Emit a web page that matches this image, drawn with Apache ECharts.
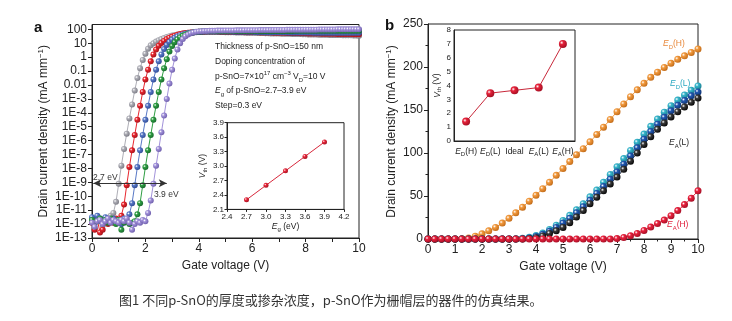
<!DOCTYPE html>
<html><head><meta charset="utf-8">
<script src="https://cdn.jsdelivr.net/npm/echarts@6/dist/echarts.min.js"></script>
<style>html,body{margin:0;padding:0;background:#fff}#c{width:732px;height:321px}</style>
</head><body><div id="c"></div><script>
// ---------- Panel a: log10 of drain current density (mA/mm) vs gate voltage ----------
const xA = [0,0.1,0.2,0.3,0.4,0.5,0.6,0.7,0.8,0.9,
1,1.1,1.2,1.3,1.4,1.5,1.6,1.7,1.8,1.9,
2,2.1,2.2,2.3,2.4,2.5,2.6,2.7,2.8,2.9,
3,3.1,3.2,3.3,3.4,3.5,3.6,3.7,3.8,3.9,
4,4.1,4.2,4.3,4.4,4.5,4.6,4.7,4.8,4.9,
5,5.1,5.2,5.3,5.4,5.5,5.6,5.7,5.8,5.9,
6,6.1,6.2,6.3,6.4,6.5,6.6,6.7,6.8,6.9,
7,7.1,7.2,7.3,7.4,7.5,7.6,7.7,7.8,7.9,
8,8.1,8.2,8.3,8.4,8.5,8.6,8.7,8.8,8.9,
9,9.1,9.2,9.3,9.4,9.5,9.6,9.7,9.8,9.9,10];
const logJ_Eg27 = [-11.6,-12.3,-11.5,-11.8,-12.1,-11.6,-11.9,-11.4,-11.2,-10.4,
-9.1,-7.8,-6.6,-5.5,-4.4,-3.4,-2.4,-1.5,-0.8,-0.2,
0.25,0.6,0.85,1.0,1.12,1.22,1.3,1.38,1.45,1.51,
1.56,1.6,1.64,1.67,1.7,1.73,1.75,1.77,1.79,1.8,
1.81,1.82,1.82,1.83,1.83,1.83,1.82,1.82,1.81,1.81,
1.80,1.80,1.79,1.79,1.78,1.78,1.77,1.77,1.76,1.76,
1.75,1.75,1.74,1.73,1.73,1.72,1.72,1.71,1.71,1.70,
1.70,1.69,1.69,1.68,1.68,1.67,1.67,1.66,1.66,1.65,
1.65,1.64,1.64,1.63,1.63,1.62,1.62,1.61,1.61,1.60,
1.60,1.60,1.59,1.59,1.58,1.58,1.57,1.57,1.56,1.56,1.55];
const logJ_Eg30 = [-11.9,-12.4,-11.7,-12.6,-12.4,-11.8,-12.0,-11.7,-11.9,-11.6,
-11.8,-11.4,-10.6,-9.2,-7.9,-6.7,-5.6,-4.5,-3.5,-2.5,
-1.6,-0.9,-0.3,0.2,0.55,0.82,1.02,1.17,1.3,1.4,
1.48,1.55,1.61,1.66,1.7,1.73,1.76,1.78,1.8,1.81,
1.82,1.83,1.83,1.84,1.84,1.84,1.84,1.84,1.83,1.83,
1.83,1.82,1.82,1.82,1.81,1.81,1.81,1.80,1.80,1.80,
1.79,1.79,1.79,1.78,1.78,1.78,1.77,1.77,1.76,1.76,
1.76,1.75,1.75,1.74,1.74,1.74,1.73,1.73,1.72,1.72,
1.72,1.71,1.71,1.70,1.70,1.70,1.69,1.69,1.69,1.68,
1.68,1.68,1.67,1.67,1.67,1.66,1.66,1.66,1.65,1.65,1.65];
const logJ_Eg33 = [-11.5,-11.8,-11.4,-11.6,-11.9,-11.5,-11.7,-11.8,-11.6,-11.9,
-11.7,-12.0,-11.6,-11.8,-11.3,-10.5,-9.2,-7.9,-6.7,-5.6,
-4.5,-3.5,-2.5,-1.6,-0.9,-0.3,0.2,0.58,0.88,1.1,
1.27,1.4,1.5,1.58,1.64,1.69,1.73,1.76,1.79,1.81,
1.82,1.83,1.84,1.84,1.85,1.85,1.85,1.85,1.85,1.84,
1.84,1.84,1.84,1.83,1.83,1.83,1.83,1.82,1.82,1.82,
1.82,1.81,1.81,1.81,1.81,1.80,1.80,1.80,1.80,1.79,
1.79,1.79,1.79,1.78,1.78,1.78,1.78,1.78,1.77,1.77,
1.77,1.77,1.77,1.76,1.76,1.76,1.76,1.76,1.76,1.75,
1.75,1.75,1.75,1.75,1.75,1.75,1.75,1.75,1.75,1.75,1.75];
const logJ_Eg36 = [-11.7,-11.9,-11.8,-11.6,-11.9,-11.7,-11.9,-11.6,-11.8,-12.0,
-11.7,-12.4,-11.9,-11.8,-12.0,-11.9,-11.8,-11.3,-10.5,-9.2,
-7.9,-6.7,-5.6,-4.5,-3.5,-2.5,-1.6,-0.8,-0.15,0.4,
0.8,1.08,1.28,1.43,1.54,1.62,1.69,1.74,1.78,1.81,
1.83,1.85,1.86,1.86,1.87,1.87,1.87,1.87,1.87,1.87,
1.87,1.87,1.88,1.88,1.88,1.88,1.88,1.88,1.88,1.88,
1.88,1.88,1.88,1.89,1.89,1.89,1.89,1.89,1.89,1.89,
1.89,1.89,1.89,1.89,1.89,1.89,1.90,1.90,1.90,1.90,
1.90,1.90,1.90,1.90,1.90,1.90,1.90,1.90,1.90,1.90,
1.90,1.90,1.90,1.90,1.90,1.90,1.90,1.90,1.90,1.90,1.90];
const logJ_Eg39 = [-11.9,-12.2,-11.8,-11.7,-12.0,-11.8,-11.6,-11.9,-11.7,-11.8,
-11.9,-11.7,-11.8,-11.6,-11.9,-12.4,-12.0,-11.8,-11.9,-11.7,
-11.8,-11.2,-10.3,-9.1,-7.8,-6.6,-5.4,-4.2,-3.0,-1.9,
-0.9,-0.1,0.55,1.0,1.3,1.5,1.63,1.72,1.78,1.82,
1.85,1.87,1.88,1.89,1.90,1.90,1.90,1.91,1.91,1.91,
1.92,1.92,1.92,1.92,1.93,1.93,1.93,1.93,1.94,1.94,
1.94,1.94,1.94,1.95,1.95,1.95,1.95,1.95,1.96,1.96,
1.96,1.96,1.96,1.97,1.97,1.97,1.97,1.97,1.97,1.98,
1.98,1.98,1.98,1.98,1.98,1.99,1.99,1.99,1.99,1.99,
1.99,1.99,2.0,2.0,2.0,2.0,2.0,2.0,2.0,2.0,2.0];
const tickLabelsA = ['1E-13','1E-12','1E-11','1E-10','1E-9','1E-8','1E-7','1E-6','1E-5','1E-4','1E-3','0.01','0.1','1','10','100'];
// inset a
const egInset = [2.7,3.0,3.3,3.6,3.9];
const vthInsetA = [2.3,2.6,2.9,3.2,3.5];

// ---------- Panel b ----------
const xB = [0,0.25,0.5,0.75,1,1.25,1.5,1.75,2,2.25,2.5,2.75,3,3.25,3.5,3.75,4,4.25,4.5,4.75,
5,5.25,5.5,5.75,6,6.25,6.5,6.75,7,7.25,7.5,7.75,8,8.25,8.5,8.75,9,9.25,9.5,9.75,10];
const J_EDH = [0,0,0,0,0.1,0.4,1.3,3.2,6,9.5,13.5,18.5,24,30.5,37,44,51,58.5,66,74,
82,90,98,105,113,121.5,130,139,148,157,165.5,173.5,181,188,194,199.5,204.5,209,213,217,221];
const J_EDL = [0,0,0,0,0,0,0,0,0,0,0,0,0,0.3,0.8,2,4,7,11,16,
21.5,27.5,34,41,49,57,66,75,84,93.5,103,112.5,122,131,139.5,147.5,155,161.5,167.5,173,178];
const J_Ideal = [0,0,0,0,0,0,0,0,0,0,0,0,0,0,0.4,1.3,3,5.5,9,13.5,
18.5,24,30.5,37.5,45,53,61,69.5,78,87,96.5,106,116,125,133.5,141.5,149,155.5,161,166.5,171];
const J_EAL = [0,0,0,0,0,0,0,0,0,0,0,0,0,0,0,0.5,1.5,3.5,6.5,9.5,
13.5,19,25.5,33,41,48.5,56,64,72,81,90.5,100,110,119,127.5,135,142,148,153.5,159,164];
const J_EAH = [0,0,0,0,0,0,0,0,0,0,0,0,0,0,0,0,0,0,0,0,
0,0,0,0,0,0,0,0,0.5,1.8,3.8,6.5,10,14,18,22,27,33,40,47.5,56];
// inset b
const trapCats = ['E_D(H)','E_D(L)','Ideal','E_A(L)','E_A(H)'];
const vthInsetB = [1.4,3.45,3.65,3.85,7.0];

// ---------- styling helpers ----------
const FF = "'Liberation Sans', Arial, Helvetica, sans-serif";
const INK = '#222';
function bead(c, dark) {
  return {type:'radial', x:0.35, y:0.35, r:0.75,
    colorStops:[{offset:0,color:'#ffffff'},{offset:0.3,color:c},{offset:1,color:dark}]};
}
function richAx(sz, color) {
  color = color || INK;
  return {
    n:{fontFamily:FF,fontSize:sz,color:color},
    i:{fontFamily:FF,fontSize:sz,fontStyle:'italic',color:color},
    sub:{fontFamily:FF,fontSize:Math.round(sz*0.7),color:color,verticalAlign:'bottom'},
    sup:{fontFamily:FF,fontSize:Math.round(sz*0.7),color:color,verticalAlign:'top'}
  };
}
function richG(sz, color) {
  return {
    i:{fontFamily:FF,fontSize:sz,fontStyle:'italic',fill:color,color:color},
    sub:{fontFamily:FF,fontSize:sz*0.7,fill:color,color:color,verticalAlign:'bottom'},
    sup:{fontFamily:FF,fontSize:sz*0.7,fill:color,color:color,verticalAlign:'top'}
  };
}
function gText(x, y, text, sz, color, extra) {
  return {type:'text', x:x, y:y, silent:true, z:100,
    style:Object.assign({text:text, fontSize:sz, fontFamily:FF, fill:color,
      align:'left', verticalAlign:'middle', lineHeight:sz+4, rich:richG(sz,color)}, extra||{})};
}
function capE(s){ // 'E_D(H)' -> rich
  const m = s.match(/^E_(\w)(.*)$/);
  return m ? '{i|E}{sub|'+m[1]+'}'+m[2] : s;
}
const axLine = {show:true, onZero:false, lineStyle:{color:INK,width:1}};
const lbl = (sz, extra) => Object.assign({fontFamily:FF,fontSize:sz,color:INK}, extra||{});

const pa = [
  {name:'2.7 eV', d:logJ_Eg27, c:'#aeaeb6', k:'#74747e'},
  {name:'3.0 eV', d:logJ_Eg30, c:'#e8262e', k:'#9c1018'},
  {name:'3.3 eV', d:logJ_Eg33, c:'#5878c6', k:'#2b4690'},
  {name:'3.6 eV', d:logJ_Eg36, c:'#2e9e42', k:'#15632a'},
  {name:'3.9 eV', d:logJ_Eg39, c:'#a292da', k:'#6858a6'}
];
const pb = [
  {name:'E_D(H)', d:J_EDH, c:'#f29a3e', k:'#bd6614'},
  {name:'E_D(L)', d:J_EDL, c:'#38b6cc', k:'#177c8e'},
  {name:'Ideal', d:J_Ideal, c:'#2258b0', k:'#0c306c'},
  {name:'E_A(L)', d:J_EAL, c:'#3a3a3a', k:'#000000'},
  {name:'E_A(H)', d:J_EAH, c:'#e8203c', k:'#9e0e24'}
];

const series = [];
pa.forEach((s, si) => {
  const o = {type:'line', name:s.name, xAxisIndex:0, yAxisIndex:0, silent:true,
    data:xA.map((x,i)=>[x, s.d[i]]), symbol:'circle', symbolSize:6, showAllSymbol:true,
    lineStyle:{color:s.c, width:1}, itemStyle:{color:bead(s.c,s.k), borderWidth:0}};
  if (si === pa.length-1) {
    o.markLine = {silent:true, symbol:['arrow','arrow'], symbolSize:[6,8], label:{show:false},
      lineStyle:{color:'#333', width:1.2, type:'solid'},
      data:[[{coord:[0.05,-9.06]},{coord:[2.8,-9.06]}]]};
  }
  series.push(o);
});
series.push({type:'line', xAxisIndex:1, yAxisIndex:1, silent:true,
  data:egInset.map((e,i)=>[e, vthInsetA[i]]), symbol:'circle', symbolSize:5,
  lineStyle:{color:'#d8283c', width:1}, itemStyle:{color:bead('#e8263a','#a0101f')}});
pb.forEach(s => {
  series.push({type:'line', name:s.name, xAxisIndex:2, yAxisIndex:2, silent:true,
    data:xB.map((x,i)=>[x, s.d[i]]), symbol:'circle', symbolSize:7, showAllSymbol:true,
    lineStyle:{color:s.c, width:1}, itemStyle:{color:bead(s.c,s.k), borderWidth:0}});
});
series.push({type:'line', xAxisIndex:3, yAxisIndex:3, silent:true,
  data:vthInsetB, symbol:'circle', symbolSize:8,
  lineStyle:{color:'#c8283a', width:1}, itemStyle:{color:bead('#e6223a','#9a0c20')}});

const yNameMain = '{n|Drain current density (mA mm}{sup|−1}{n|)}';

const option = {
  animation:false,
  backgroundColor:'#fff',
  grid:[
    {left:92, top:24.5, width:267, height:213.5, show:true, borderColor:INK, borderWidth:1, backgroundColor:'transparent'},
    {left:227, top:122.7, width:117, height:86.7, show:true, borderColor:INK, borderWidth:1, backgroundColor:'#fff'},
    {left:428, top:24, width:270, height:215, show:true, borderColor:INK, borderWidth:1, backgroundColor:'transparent'},
    {left:454, top:30, width:121, height:111, show:true, borderColor:INK, borderWidth:1, backgroundColor:'#fff'}
  ],
  xAxis:[
    {gridIndex:0, type:'value', min:0, max:10, interval:2, axisLine:axLine,
      axisTick:{length:4, lineStyle:{color:INK}}, minorTick:{show:true, splitNumber:2, length:4, lineStyle:{color:INK}},
      splitLine:{show:false}, axisLabel:lbl(12,{margin:5}),
      name:'Gate voltage (V)', nameLocation:'middle', nameGap:22, nameTextStyle:lbl(12)},
    {gridIndex:1, type:'value', min:2.4, max:4.2, interval:0.3, axisLine:axLine,
      axisTick:{length:2.5, lineStyle:{color:INK}}, splitLine:{show:false},
      axisLabel:lbl(8,{margin:3, formatter:v=>v.toFixed(1)}),
      name:'{i|E}{sub|g} (eV)', nameLocation:'middle', nameGap:12,
      nameTextStyle:Object.assign(lbl(8.5,{lineHeight:11}),{rich:richAx(8.5)})},
    {gridIndex:2, type:'value', min:0, max:10, interval:1, axisLine:axLine,
      axisTick:{length:4, lineStyle:{color:INK}}, minorTick:{show:true, splitNumber:2, length:2.5, lineStyle:{color:INK}},
      splitLine:{show:false}, axisLabel:lbl(12,{margin:5}),
      name:'Gate voltage (V)', nameLocation:'middle', nameGap:22, nameTextStyle:lbl(12)},
    {gridIndex:3, type:'category', data:trapCats, boundaryGap:true, axisLine:axLine,
      axisTick:{alignWithLabel:true, length:2.5, lineStyle:{color:INK}},
      axisLabel:Object.assign(lbl(8.5,{margin:5, interval:0, lineHeight:11, formatter:capE}),{rich:richAx(8.5)})}
  ],
  yAxis:[
    {gridIndex:0, type:'value', min:-13, max:2.35, interval:1, axisLine:axLine,
      axisTick:{length:4, lineStyle:{color:INK}}, splitLine:{show:false},
      axisLabel:lbl(12,{margin:5, showMaxLabel:false,
        formatter:v=>Math.abs(v-Math.round(v))<1e-6 ? (tickLabelsA[Math.round(v)+13]||'') : ''}),
      name:yNameMain, nameLocation:'middle', nameGap:41,
      nameTextStyle:Object.assign(lbl(12,{lineHeight:14}),{rich:richAx(12)})},
    {gridIndex:1, type:'value', min:2.1, max:3.9, interval:0.3, axisLine:axLine,
      axisTick:{length:2.5, lineStyle:{color:INK}}, splitLine:{show:false},
      axisLabel:lbl(8,{margin:3, formatter:v=>v.toFixed(1)}),
      name:'{i|V}{sub|th} (V)', nameLocation:'middle', nameGap:19,
      nameTextStyle:Object.assign(lbl(8.5,{lineHeight:11}),{rich:richAx(8.5)})},
    {gridIndex:2, type:'value', min:0, max:250, interval:50, axisLine:axLine,
      axisTick:{length:4, lineStyle:{color:INK}}, minorTick:{show:true, splitNumber:2, length:2.5, lineStyle:{color:INK}},
      splitLine:{show:false}, axisLabel:lbl(12,{margin:5}),
      name:yNameMain, nameLocation:'middle', nameGap:29,
      nameTextStyle:Object.assign(lbl(12,{lineHeight:14}),{rich:richAx(12)})},
    {gridIndex:3, type:'value', min:0, max:8, interval:1, axisLine:axLine,
      axisTick:{length:2.5, lineStyle:{color:INK}}, splitLine:{show:false},
      axisLabel:lbl(8,{margin:3}),
      name:'{i|V}{sub|th} (V)', nameLocation:'middle', nameGap:9,
      nameTextStyle:Object.assign(lbl(8.5,{lineHeight:11}),{rich:richAx(8.5)})}
  ],
  graphic:[
    gText(34, 28, 'a', 15, '#111', {fontWeight:'bold'}),
    gText(385, 26, 'b', 15, '#111', {fontWeight:'bold'}),
    gText(215, 46.7, 'Thickness of p-SnO=150 nm', 8.5, INK),
    gText(215, 61.7, 'Doping concentration of', 8.5, INK),
    gText(215, 76.7, 'p-SnO=7×10{sup|17} cm{sup|−3} V{sub|D}=10 V', 8.5, INK),
    gText(215, 91, '{i|E}{sub|g} of p-SnO=2.7–3.9 eV', 8.5, INK),
    gText(215, 105.7, 'Step=0.3 eV', 8.5, INK),
    gText(93, 178, '2.7 eV', 8.5, '#333'),
    gText(154, 195, '3.9 eV', 8.5, '#333'),
    gText(663, 44, '{i|E}{sub|D}(H)', 8.5, '#e8883a'),
    gText(670, 84, '{i|E}{sub|D}(L)', 8.5, '#2aa8c0'),
    gText(669, 143, '{i|E}{sub|A}(L)', 8.5, '#222'),
    gText(667, 225, '{i|E}{sub|A}(H)', 8.5, '#e0203c'),
    {type:'text', x:119, y:300, silent:true, z:100,
      style:{text:'图1 不同p-SnO的厚度或掺杂浓度，p-SnO作为栅帽层的器件的仿真结果。',
        fontSize:13, fontFamily:"'Noto Sans CJK SC', sans-serif", fill:'#333', align:'left', verticalAlign:'middle'}}
  ],
  series:series
};
const chart = echarts.init(document.getElementById('c'), null, {renderer:'canvas'});
chart.setOption(option);
</script></body></html>
